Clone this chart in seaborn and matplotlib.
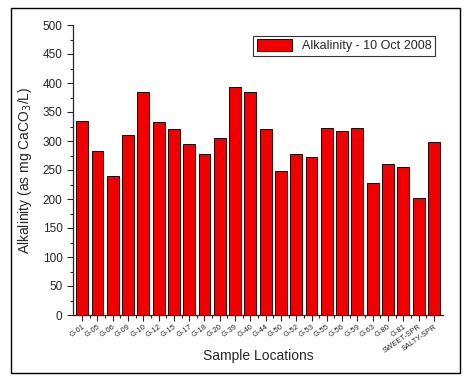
import pandas as pd
import seaborn as sns
import matplotlib.pyplot as plt
from matplotlib.patches import Rectangle
from matplotlib.ticker import MultipleLocator

# data
locations = ["G-01", "G-05", "G-06", "G-09", "G-10", "G-12", "G-15", "G-17",
             "G-18", "G-20", "G-39", "G-40", "G-44", "G-50", "G-52", "G-53",
             "G-55", "G-56", "G-59", "G-63", "G-80", "G-81", "SWEET-SPR", "SALTY-SPR"]
alkalinity = [335, 282, 239, 310, 385, 332, 320, 294,
              278, 305, 393, 385, 320, 249, 278, 273,
              322, 317, 322, 227, 260, 255, 202, 298]

df = pd.DataFrame({"location": locations, "alkalinity": alkalinity})

sns.set_style("ticks")
plt.rcParams['font.family'] = ['Liberation Sans', 'DejaVu Sans']

fig = plt.figure(figsize=(4.69, 3.85), dpi=100)
ax = fig.add_axes([73 / 469, 1 - 315 / 385, (443 - 73) / 469, (315 - 25) / 385])

sns.barplot(data=df, x="location", y="alkalinity", color="#f00000",
            saturation=1, width=0.78, edgecolor="#300000", linewidth=0.7,
            label="Alkalinity - 10 Oct 2008", ax=ax)

ax.set_ylim(0, 500)
ax.set_xlim(-0.6, len(locations) - 0.4)
ax.yaxis.set_major_locator(MultipleLocator(50))
ax.yaxis.set_minor_locator(MultipleLocator(25))
ax.set_xticks([i + 0.5 for i in range(len(locations) - 1)], minor=True)
ax.tick_params(axis="both", which="major", direction="out", length=4, width=0.8, labelsize=8.5)
ax.tick_params(axis="both", which="minor", direction="out", length=2, width=0.8)
ax.tick_params(axis="x", labelsize=5.5, pad=2)
plt.setp(ax.get_xticklabels(), rotation=35, ha="right", rotation_mode="anchor")

sns.despine(ax=ax)
for s in ["left", "bottom"]:
    ax.spines[s].set_linewidth(0.9)

ax.set_xlabel("Sample Locations", fontsize=10)
ax.xaxis.set_label_coords(0.5, -0.118)
ax.set_ylabel("Alkalinity (as mg CaCO$_3$/L)", fontsize=10, labelpad=6)

leg = ax.legend(loc="upper right", bbox_to_anchor=(0.995, 0.985), fontsize=9,
                frameon=True, fancybox=False, edgecolor="black",
                handlelength=2.8, handleheight=1.0, borderpad=0.3)
leg.get_frame().set_linewidth(0.8)

# outer frame around the whole figure
fig.patches.append(Rectangle((11 / 469, 1 - 373 / 385), (460 - 11) / 469, (373 - 8) / 385,
                             transform=fig.transFigure, fill=False,
                             edgecolor="black", linewidth=1.0))

fig.savefig("out.png", dpi=100)
